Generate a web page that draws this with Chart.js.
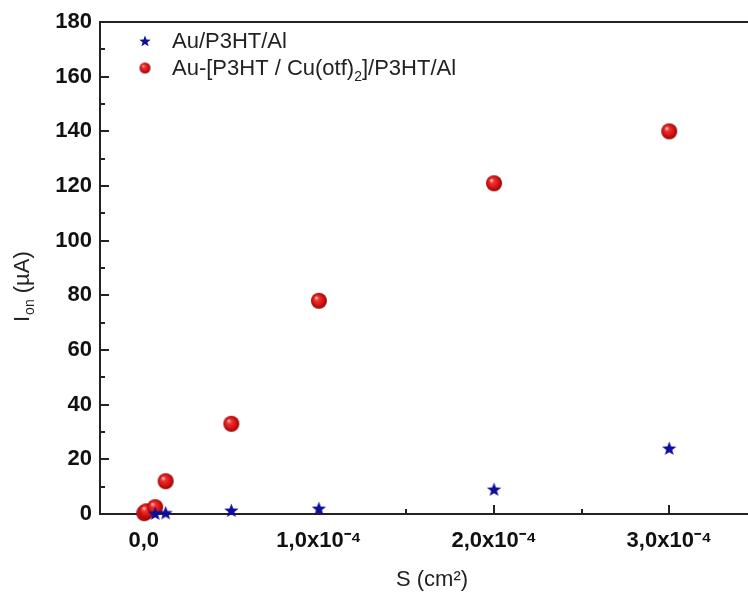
<!DOCTYPE html>
<html><head><meta charset="utf-8">
<script src="https://cdn.jsdelivr.net/npm/chart.js@4.4.1/dist/chart.umd.min.js"></script>
<style>html,body{margin:0;padding:0;background:#fff;overflow:hidden}#wrap{width:748px;height:594px;position:relative}</style>
</head><body><div id="wrap"><canvas id="c"></canvas></div>
<script>
// ---- data (S in cm², I_on in µA) ----
const seriesNames = ['Au/P3HT/Al', 'Au-[P3HT / Cu(otf)', '2', ']/P3HT/Al'];
const areaAu = [6.5e-6, 1.25e-5, 5e-5, 1e-4, 2e-4, 3e-4];
const ionAu  = [0.2, 0.4, 1.3, 2, 9, 24];
const areaCu = [2.5e-7, 1.5e-6, 6.5e-6, 1.25e-5, 5e-5, 1e-4, 2e-4, 3e-4];
const ionCu  = [0.3, 1.0, 2.5, 12, 33, 78, 121, 140];
const xMajorLabels = ['0,0', '1,0x10⁻⁴', '2,0x10⁻⁴', '3,0x10⁻⁴'];
const yMajorLabels = ['0','20','40','60','80','100','120','140','160','180'];
const xTitle = 'S (cm²)';
const yTitleParts = ['I', 'on', ' (µA)'];

const FONT = "'Liberation Sans', Arial, sans-serif";

function makeStar(r, color) {
  const s = Math.ceil(r * 2 + 2), c = document.createElement('canvas');
  c.width = s; c.height = s;
  const g = c.getContext('2d'), cx = s / 2, cy = s / 2 + 0.5, ri = r * 0.42;
  g.beginPath();
  for (let i = 0; i < 10; i++) {
    const rad = i % 2 ? ri : r, a = -Math.PI / 2 + i * Math.PI / 5;
    g.lineTo(cx + rad * Math.cos(a), cy + rad * Math.sin(a));
  }
  g.closePath(); g.fillStyle = color; g.fill();
  return c;
}
function makeSphere(r) {
  const s = Math.ceil(r * 2 + 2), c = document.createElement('canvas');
  c.width = s; c.height = s;
  const g = c.getContext('2d'), cx = s / 2, cy = s / 2;
  const gr = g.createRadialGradient(cx - r * 0.35, cy - r * 0.4, r * 0.05, cx, cy, r);
  gr.addColorStop(0, '#ffc8c8');
  gr.addColorStop(0.25, '#ee3434');
  gr.addColorStop(0.7, '#d41010');
  gr.addColorStop(1, '#900808');
  g.beginPath(); g.arc(cx, cy, r, 0, Math.PI * 2); g.fillStyle = gr; g.fill();
  return c;
}
const starImg = makeStar(7.5, '#0d0d9e');
const sphereImg = makeSphere(8);
const starLeg = makeStar(6, '#0d0d9e');
const sphereLeg = makeSphere(5.5);

const decor = {
  id: 'decor',
  beforeDatasetsDraw(chart) {
    const ctx = chart.ctx, a = chart.chartArea, x = chart.scales.x, y = chart.scales.y;
    ctx.save();
    ctx.strokeStyle = '#222'; ctx.lineWidth = 2;
    ctx.beginPath(); ctx.moveTo(a.left - 1, a.top); ctx.lineTo(a.right, a.top); ctx.stroke();
    ctx.beginPath();
    x.ticks.forEach(t => {
      if (t.value < x.min || t.value > x.max) return;
      const px = Math.round(x.getPixelForValue(t.value)), len = t.label !== '' ? 9 : 5;
      ctx.moveTo(px, a.bottom); ctx.lineTo(px, a.bottom - len);
    });
    y.ticks.forEach(t => {
      const py = Math.round(y.getPixelForValue(t.value)), len = t.label !== '' ? 9 : 5;
      ctx.moveTo(a.left, py); ctx.lineTo(a.left + len, py);
    });
    ctx.stroke();
    ctx.restore();
  },
  afterDraw(chart) {
    const ctx = chart.ctx;
    ctx.save();
    ctx.fillStyle = '#222';
    // legend
    ctx.drawImage(starLeg, 145 - starLeg.width / 2, 41 - starLeg.height / 2);
    ctx.drawImage(sphereLeg, 145 - sphereLeg.width / 2, 68 - sphereLeg.height / 2);
    ctx.font = '22px ' + FONT; ctx.textBaseline = 'middle'; ctx.textAlign = 'left';
    ctx.fillText(seriesNames[0], 172, 42);
    let tx = 172;
    ctx.fillText(seriesNames[1], tx, 69); tx += ctx.measureText(seriesNames[1]).width;
    ctx.font = '14px ' + FONT; ctx.fillText(seriesNames[2], tx, 77); tx += ctx.measureText(seriesNames[2]).width;
    ctx.font = '22px ' + FONT; ctx.fillText(seriesNames[3], tx, 69);
    // x title
    ctx.textAlign = 'center';
    ctx.fillText(xTitle, 432, 580);
    // y title (rotated)
    ctx.translate(29, 322); ctx.rotate(-Math.PI / 2);
    ctx.textAlign = 'left'; ctx.textBaseline = 'alphabetic';
    ctx.font = '22px ' + FONT; ctx.fillText(yTitleParts[0], 0, 0);
    let w = ctx.measureText(yTitleParts[0]).width;
    ctx.font = '14px ' + FONT; ctx.fillText(yTitleParts[1], w + 1, 5);
    w += ctx.measureText(yTitleParts[1]).width + 1;
    ctx.font = '22px ' + FONT; ctx.fillText(yTitleParts[2], w, 0);
    ctx.restore();
  }
};

new Chart(document.getElementById('c'), {
  type: 'scatter',
  data: {
    datasets: [
      { label: 'Au/P3HT/Al', data: areaAu.map((v, i) => ({ x: v, y: ionAu[i] })),
        pointStyle: starImg, pointRadius: 7, clip: false },
      { label: 'Au-[P3HT / Cu(otf)2]/P3HT/Al', data: areaCu.map((v, i) => ({ x: v, y: ionCu[i] })),
        pointStyle: sphereImg, pointRadius: 8, clip: false }
    ]
  },
  options: {
    responsive: true, maintainAspectRatio: false, animation: false,
    layout: { autoPadding: false, padding: { top: 22, right: 0, left: 0, bottom: 0 } },
    plugins: { legend: { display: false }, tooltip: { enabled: false } },
    scales: {
      x: {
        type: 'linear', min: -0.25e-4, max: 3.45e-4,
        grid: { display: false, drawTicks: false },
        border: { display: true, color: '#222', width: 2 },
        ticks: {
          stepSize: 0.5e-4, includeBounds: false, autoSkip: false, maxRotation: 0, minRotation: 0,
          padding: 14, color: '#111', font: { family: FONT, size: 22, weight: 'bold' },
          callback: v => { const k = Math.round(v * 2e4); return k % 2 ? '' : (xMajorLabels[k / 2] ?? ''); }
        },
        afterFit: s => { s.height = 80; s.paddingLeft = 0; s.paddingRight = 0; }
      },
      y: {
        min: 0, max: 180,
        grid: { display: false, drawTicks: false },
        border: { display: true, color: '#222', width: 2 },
        ticks: {
          stepSize: 10, includeBounds: false, autoSkip: false, padding: 8, color: '#111',
          font: { family: FONT, size: 22, weight: 'bold' },
          callback: v => { const k = Math.round(v / 10); return k % 2 ? '' : (yMajorLabels[k / 2] ?? ''); }
        },
        afterFit: s => { s.width = 100; }
      }
    }
  },
  plugins: [decor]
});
</script></body></html>
